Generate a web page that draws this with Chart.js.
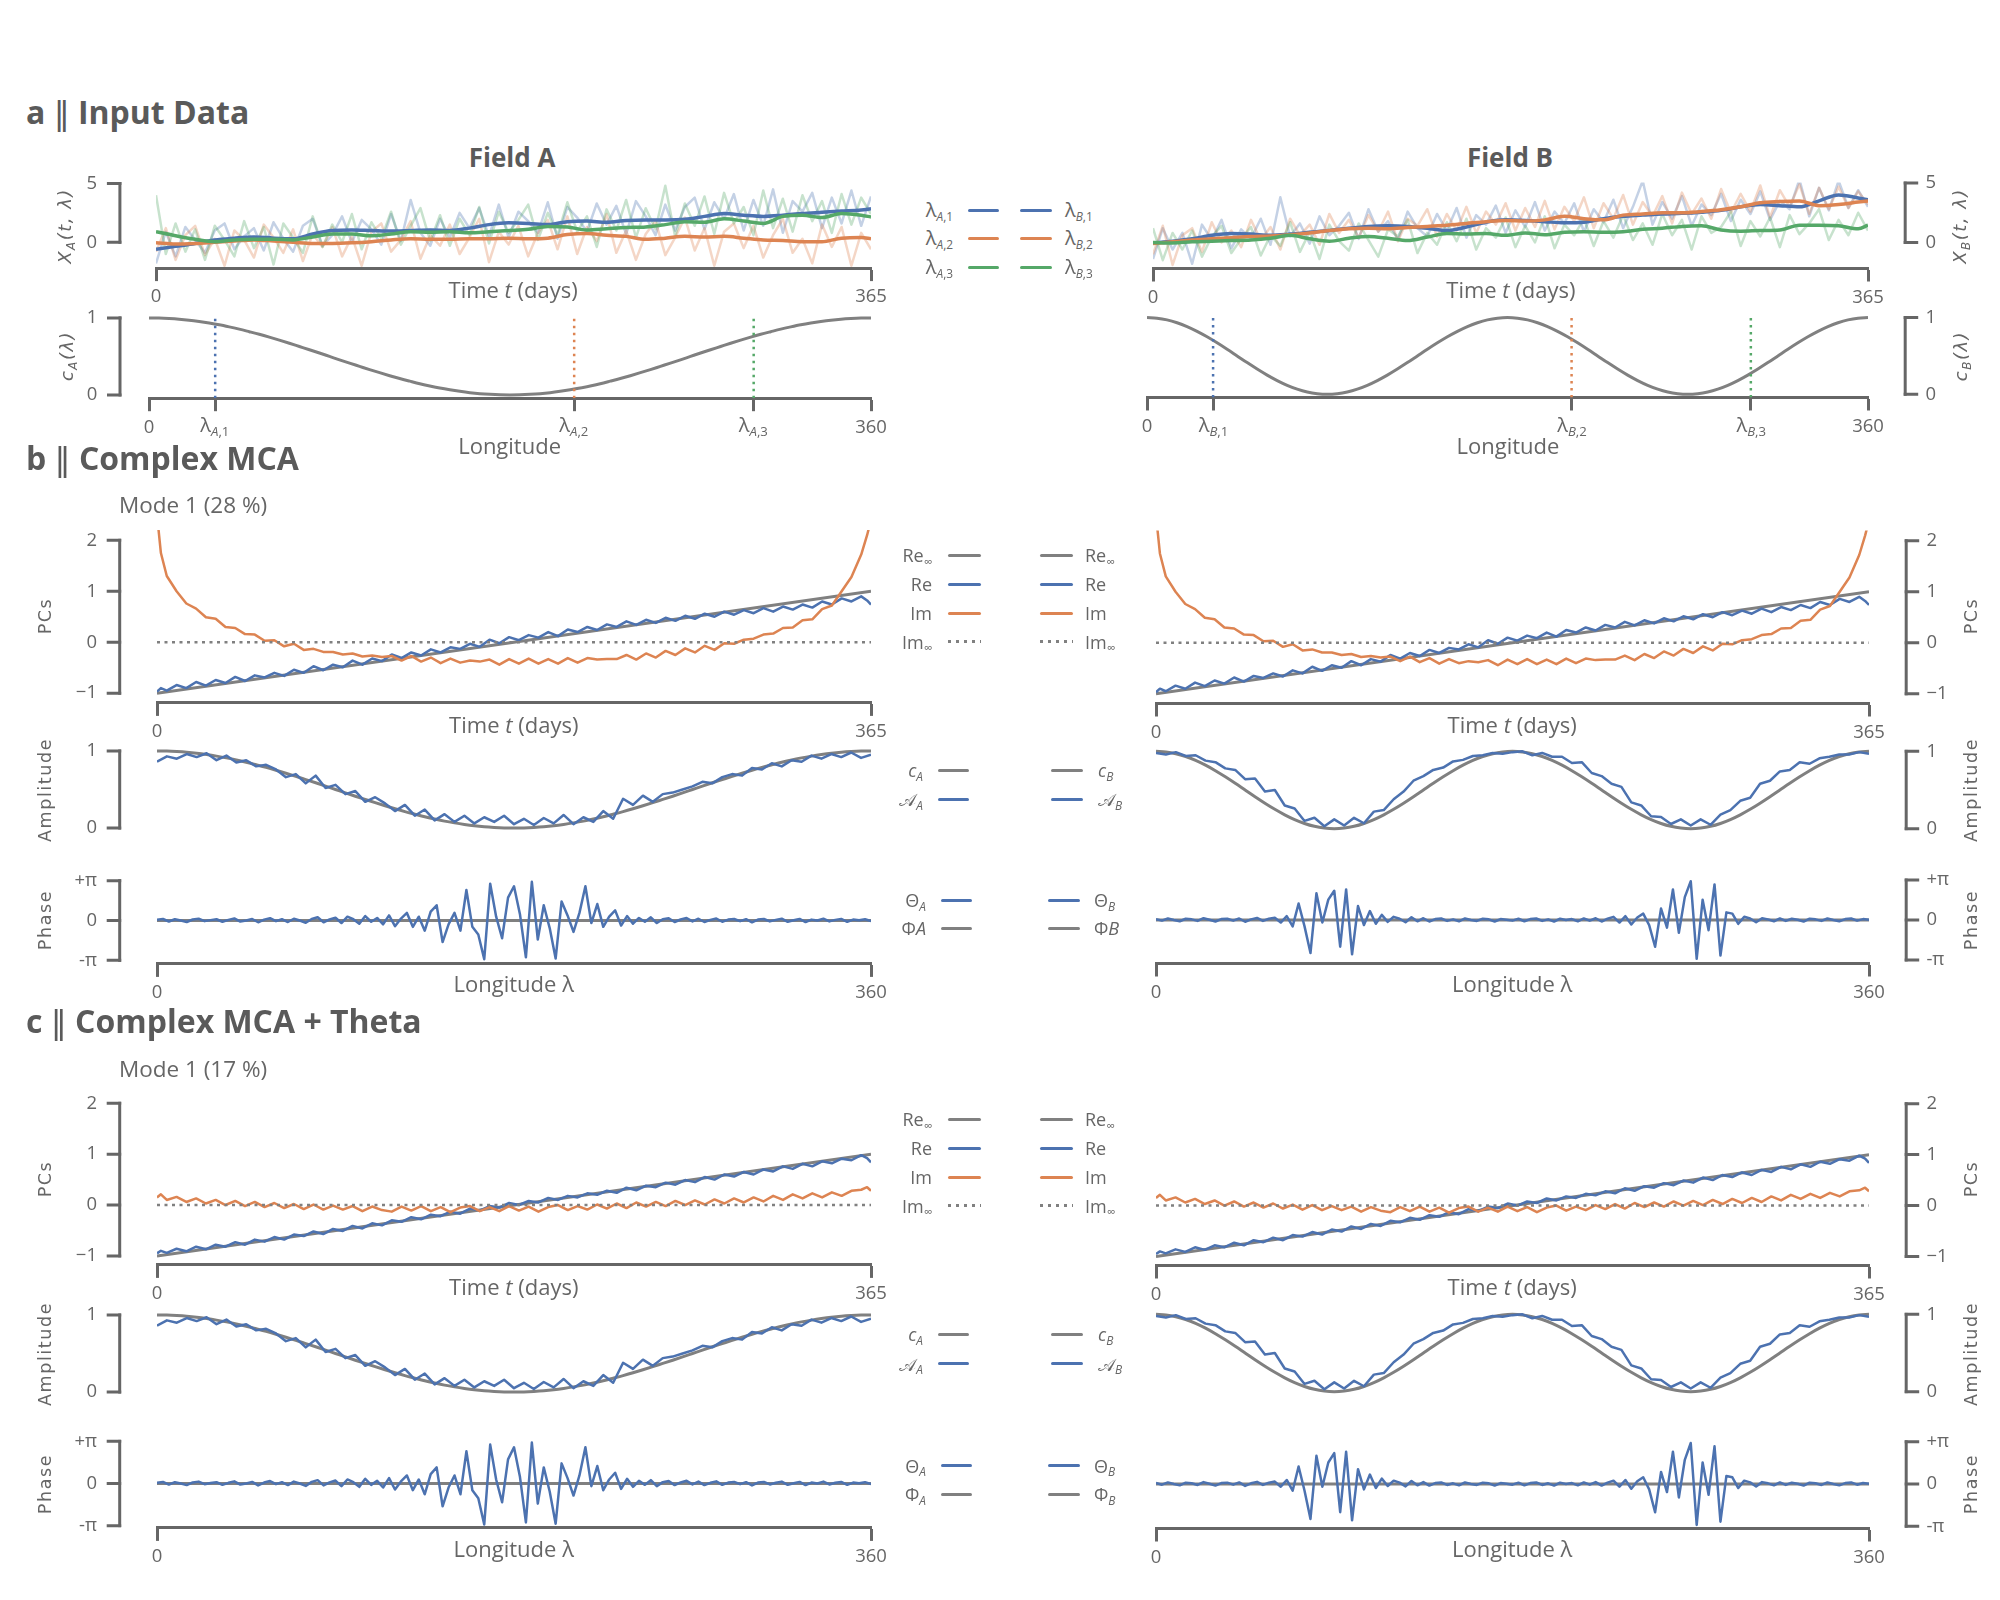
<!DOCTYPE html>
<html>
<head>
<meta charset="utf-8">
<title>Complex MCA</title>
<script src="https://cdn.jsdelivr.net/npm/chart.js@4.4.0/dist/chart.umd.min.js"></script>
<style>
  html, body { margin:0; padding:0; background:#ffffff; }
  #fig { position:relative; width:2000px; height:1600px; overflow:hidden; background:#fff;
         font-family:'Open Sans', sans-serif; color:#666; }
  #fig canvas { position:absolute; }
  .t { position:absolute; white-space:nowrap; line-height:1; }
  .t sub { font-size:0.66em; vertical-align:baseline; position:relative; top:0.32em; line-height:0; }
  .head { font-size:32px; font-weight:700; color:#5a5a5a; }
  .bar { font-weight:400; font-family:'DejaVu Sans', sans-serif; }
  .field { font-size:26px; font-weight:700; color:#5a5a5a; }
  .xl { font-size:22px; }
  .mode { font-size:22.5px; }
  .yl { font-family:'DejaVu Sans', sans-serif; font-size:17.5px; letter-spacing:1.6px; }
  .ym { font-family:'DejaVu Sans', sans-serif; font-style:italic; font-size:18px; letter-spacing:1.5px; }
  .leg { font-size:18px; }
  .lam { font-size:20px; }
  .cal { font-family:'DejaVu Sans','DejaVu Serif',serif; font-style:normal; }
  .sw { position:absolute; height:3px; }
</style>
</head>
<body>
<div id="fig"></div>
<script>
// ---------------- DATA ----------------
// Panel a: time axes (days)
const tSmooth = [0,10,20,30,40,50,60,70,80,90,100,110,120,130,140,150,160,170,180,190,200,210,220,230,240,250,260,270,280,290,300,310,320,330,340,350,360,365];
const tNoise = [0,5,10,15,20,25,30,35,40,45,50,55,60,65,70,75,80,85,90,95,100,105,110,115,120,125,130,135,140,145,150,155,160,165,170,175,180,185,190,195,200,205,210,215,220,225,230,235,240,245,250,255,260,265,270,275,280,285,290,295,300,305,310,315,320,325,330,335,340,345,350,355,360,365];

// Field A smoothed series X_A(t, lambda_i)
const smoothA1 = [-0.6,-0.35,-0.1,0.2,0.35,0.45,0.35,0.3,0.7,1.0,1.05,1.0,0.95,1.0,1.05,1.0,1.2,1.5,1.65,1.6,1.5,1.75,1.8,1.7,1.85,1.9,1.9,1.95,2.2,2.45,2.3,2.2,2.3,2.45,2.55,2.65,2.75,2.85];
const smoothA2 = [-0.05,-0.15,-0.1,0.0,0.1,0.2,0.1,0.0,-0.1,-0.1,-0.05,0.05,0.2,0.3,0.25,0.25,0.3,0.3,0.35,0.3,0.35,0.65,0.75,0.6,0.5,0.25,0.35,0.5,0.45,0.5,0.35,0.2,0.15,0.05,0.05,0.35,0.4,0.3];
const smoothA3 = [0.9,0.55,0.25,0.05,0.2,0.25,0.25,0.2,0.45,0.7,0.7,0.55,0.7,0.9,0.85,0.9,0.8,0.9,1.0,1.1,1.35,1.3,1.05,1.15,1.25,1.3,1.5,1.75,1.7,2.0,1.8,1.6,2.2,2.3,2.1,2.45,2.3,2.15];
// Field B smoothed series
const smoothB1 = [-0.05,0.1,0.3,0.6,0.75,0.7,0.6,0.7,0.85,1.0,1.2,1.35,1.4,1.35,1.2,1.0,1.3,1.7,1.9,1.85,1.75,1.65,1.7,2.0,2.2,2.3,2.4,2.45,2.55,2.7,3.0,3.2,3.1,3.0,3.5,4.0,3.75,3.6];
const smoothB2 = [-0.1,0.05,0.2,0.3,0.4,0.5,0.55,0.65,0.8,1.0,1.15,1.2,1.15,1.25,1.35,1.45,1.6,1.75,1.85,1.8,1.9,2.2,2.0,1.9,2.3,2.4,2.5,2.5,2.6,2.75,3.0,3.35,3.45,3.5,3.1,3.2,3.4,3.5];
const smoothB3 = [0.0,-0.05,0.05,0.1,0.15,0.2,0.35,0.6,0.3,0.1,0.35,0.5,0.35,0.15,0.45,0.75,0.7,0.75,0.6,0.8,0.65,0.85,0.9,0.85,0.9,1.1,1.2,1.35,1.4,1.05,0.95,1.0,1.05,1.45,1.45,1.4,1.15,1.45];

// Raw (noisy, faint) series
const noiseA1 = [-1.8,0.9,-1.2,1.3,0.2,-0.9,1.0,1.6,-0.6,0.5, 1.2,-0.7,1.7,0.3,-0.8,1.4,2.0,-0.3,0.6,2.2, 0.0,1.9,1.1,-0.2,2.4,0.1,3.6,0.8,-0.3,2.0, 0.4,2.5,1.2,2.9,0.5,3.2,0.4,2.6,1.8,0.8, 3.4,0.3,3.0,2.1,0.9,3.3,1.5,3.1,0.7,3.5, 2.2,0.6,3.2,1.0,3.0,3.8,1.1,3.4,2.0,4.1, 1.0,3.6,1.4,4.5,0.8,3.5,2.6,4.2,1.2,3.8, 1.6,4.4,1.4,3.9];
const noiseA2 = [-0.8,1.2,-1.5,0.6,1.4,-1.1,0.3,-2.0,1.0,0.2, -1.3,1.5,0.4,-0.9,1.1,-1.6,0.7,-0.4,1.3,-1.2, 0.5,-2.0,0.9,1.6,-0.8,0.2,1.8,-1.4,0.6,-0.3, 1.5,-1.0,0.4,2.0,-1.7,0.9,-0.2,1.4,-1.2,0.8, 1.9,-0.6,2.2,-1.0,1.3,0.1,2.4,-0.9,1.0,-1.5, 0.7,1.8,-1.1,0.4,2.1,-0.7,1.2,-2.0,0.9,1.6, -0.5,1.4,-1.3,0.6,2.0,-0.9,0.3,-1.8,1.5,-0.4, 1.3,-2.0,0.8,-0.6];
const noiseA3 = [4.0,-1.0,1.6,-0.8,1.1,-1.5,1.4,0.2,-1.2,1.8, -0.5,1.3,-1.9,1.6,0.4,-0.9,2.2,-0.4,1.5,0.0, 2.4,-0.6,1.7,0.3,2.6,-0.2,1.4,2.9,0.1,2.3, -0.3,2.0,0.6,3.0,-0.1,2.6,0.8,1.9,3.2,0.2, 2.5,0.6,3.4,0.9,2.2,-0.4,2.8,1.0,3.6,0.4, 2.9,1.1,4.8,0.5,3.3,1.4,3.9,0.7,4.2,1.6, 3.0,0.6,4.4,1.2,3.7,0.9,4.0,1.8,3.5,0.8, 4.1,1.5,3.8,2.4];
const noiseB1 = [-1.4,1.2,-0.6,0.8,-1.8,1.5,0.2,1.9,-0.5,1.1, 0.3,2.0,-0.2,3.8,0.5,1.6,-0.1,2.2,0.6,1.4, 2.5,0.3,2.8,0.9,1.8,0.2,2.6,1.2,0.5,2.4, 1.0,2.9,0.4,2.3,1.5,3.1,0.8,2.7,1.3,3.4, 1.0,2.6,1.6,3.3,0.9,2.8,1.7,3.6,1.2,3.0, 5.2,1.5,3.4,2.0,3.9,1.4,3.2,2.3,4.1,1.8, 3.6,2.4,4.3,1.9,3.5,2.8,5.3,2.2,4.6,2.7, 5.2,2.9,4.4,3.0];
const noiseB2 = [-1.0,1.4,-1.9,0.6,1.2,-0.8,1.7,0.0,1.0,-0.4, 1.9,0.2,1.3,-0.6,2.0,0.6,1.5,-0.2,2.4,0.8, 1.9,0.4,2.3,0.9,2.6,0.1,2.0,1.4,2.8,0.5, 2.4,1.0,3.0,0.8,2.6,1.5,3.3,1.0,2.9,1.3, 3.5,1.1,3.0,1.8,3.8,1.2,3.3,2.0,4.0,1.5, 3.4,2.2,3.9,1.6,4.2,2.4,3.7,2.0,4.5,2.5, 4.1,2.6,4.8,2.1,4.4,3.0,4.9,2.4,4.6,2.8, 4.7,2.9,4.3,3.2];
const noiseB3 = [1.2,-1.5,0.8,-0.6,1.0,-1.2,0.5,1.4,-0.9,0.3, 1.3,-1.1,0.6,-0.3,1.7,-0.8,0.9,-1.4,1.5,0.1, -0.7,1.6,0.2,-1.2,1.1,0.5,1.9,-0.9,0.8,-0.2, 1.7,0.1,2.0,-0.6,1.2,0.4,2.1,-0.4,1.4,0.0, 2.2,-0.5,1.5,0.6,2.0,-0.3,1.8,0.4,2.3,0.2, 1.6,-0.2,2.4,0.6,1.9,-0.6,2.2,0.8,1.3,2.6, -0.3,1.8,0.5,2.1,-0.4,2.3,0.7,1.6,2.8,0.2, 1.9,0.6,2.5,1.0];

// Longitudes of the three sample points
const lambdaA = [33, 212, 301.5];
const lambdaB = [33, 212, 301.5];

// Longitude grid and the amplitude profiles c_A, c_B
const lonAmp = [0,5,10,15,20,25,30,35,40,45,50,55,60,65,70,75,80,85,90,95,100,105,110,115,120,125,130,135,140,145,150,155,160,165,170,175,180,185,190,195,200,205,210,215,220,225,230,235,240,245,250,255,260,265,270,275,280,285,290,295,300,305,310,315,320,325,330,335,340,345,350,355,360];
const cA = [1,.998,.992,.983,.970,.953,.933,.910,.883,.854, .821,.787,.75,.711,.671,.629,.587,.544,.5,.456, .413,.371,.329,.289,.25,.213,.179,.146,.117,.090, .067,.047,.030,.017,.008,.002,0,.002,.008,.017, .030,.047,.067,.090,.117,.146,.179,.213,.25,.289, .329,.371,.413,.456,.5,.544,.587,.629,.671,.711, .75,.787,.821,.854,.883,.910,.933,.953,.970,.983, .992,.998,1];
const cB = [1,.992,.970,.933,.883,.821,.75,.671,.587,.5, .413,.329,.25,.179,.117,.067,.030,.008,0,.008, .030,.067,.117,.179,.25,.329,.413,.5,.587,.671, .75,.821,.883,.933,.970,.992,1,.992,.970,.933, .883,.821,.75,.671,.587,.5,.413,.329,.25,.179, .117,.067,.030,.008,0,.008,.030,.067,.117,.179, .25,.329,.413,.5,.587,.671,.75,.821,.883,.933, .970,.992,1];

// Estimated spatial amplitudes (mode 1)
const ampA = [0.86,0.93,0.90,0.96,0.92,0.97,0.88,0.94,0.85,0.88, 0.80,0.82,0.76,0.66,0.70,0.58,0.68,0.52,0.56,0.44, 0.48,0.34,0.40,0.32,0.22,0.30,0.16,0.24,0.10,0.18, 0.08,0.16,0.06,0.14,0.08,0.16,0.05,0.12,0.04,0.13, 0.06,0.17,0.05,0.14,0.08,0.22,0.12,0.38,0.30,0.42, 0.34,0.44,0.46,0.50,0.54,0.60,0.58,0.66,0.70,0.68, 0.78,0.76,0.84,0.80,0.88,0.86,0.94,0.90,0.96,0.92, 0.98,0.91,0.95];
const ampB = [0.98,0.96,0.99,0.94,0.95,0.88,0.86,0.78,0.76,0.64, 0.65,0.48,0.50,0.30,0.26,0.10,0.14,0.03,0.12,0.04, 0.14,0.07,0.22,0.24,0.38,0.48,0.62,0.68,0.76,0.79, 0.87,0.89,0.94,0.95,0.98,0.97,0.99,1.00,0.95,0.98, 0.93,0.93,0.85,0.86,0.72,0.68,0.58,0.54,0.34,0.30, 0.16,0.15,0.06,0.12,0.04,0.12,0.05,0.18,0.24,0.36, 0.40,0.58,0.62,0.74,0.76,0.86,0.84,0.91,0.93,0.96, 0.96,0.99,0.97];

// Spatial phases (mode 1)
const lonPhase = [0,3,6,9,12,15,18,21,24,27,30,33,36,39,42,45,48,51,54,57,60,63,66,69,72,75,78,81,84,87,90,93,96,99,102,105,108,111,114,117,120,123,126,129,132,135,138,141,144,147,150,153,156,159,162,165,168,171,174,177,180,183,186,189,192,195,198,201,204,207,210,213,216,219,222,225,228,231,234,237,240,243,246,249,252,255,258,261,264,267,270,273,276,279,282,285,288,291,294,297,300,303,306,309,312,315,318,321,324,327,330,333,336,339,342,345,348,351,354,357,360];
const thetaA = [0.06,0.12,-0.08,0.1,0.0,-0.12,0.08,0.14,-0.05,0.03, 0.1,-0.1,0.05,0.16,-0.08,0.0,0.12,-0.14,0.07,0.18, -0.05,0.1,-0.12,0.14,0.0,-0.18,0.12,0.25,-0.14,0.08, 0.22,-0.2,0.3,0.1,-0.25,0.35,-0.1,0.2,-0.3,0.4, -0.45,0.15,0.6,-0.5,0.3,-0.8,0.7,1.2,-1.7,-0.3, 0.6,-0.8,2.4,-0.5,-1.1,-3.05,2.9,0.3,-1.4,1.8, 2.7,0.5,-2.9,3.05,-1.5,1.2,-0.6,-3.0,1.5,0.4, -0.9,0.6,2.7,-0.2,1.3,-0.5,0.3,0.8,-0.4,0.35, -0.25,0.2,-0.1,0.25,-0.2,0.1,0.18,-0.12,0.08,0.2, -0.07,0.14,-0.12,0.05,0.16,-0.1,0.07,0.12,-0.05,0.1, -0.14,0.07,0.12,-0.07,0.05,0.14,-0.1,0.02,0.12,-0.12, 0.07,0.0,0.14,-0.07,0.05,0.12,-0.1,0.07,0.02,0.1, -0.05];
const thetaB = [0.07,-0.05,0.12,0.0,-0.1,0.1,0.05,-0.07,0.14,0.02, -0.12,0.07,0.1,-0.05,0.12,-0.14,0.05,0.16,-0.07,0.1, 0.18,-0.2,0.3,-0.5,1.3,-0.5,-2.6,2.1,-0.2,1.6, 2.3,-2.1,2.4,-2.7,1.1,-0.4,0.7,-0.3,0.4,-0.15, 0.25,0.1,-0.18,0.22,-0.1,0.14,-0.12,0.07,0.12,-0.07, 0.05,-0.1,0.12,0.0,-0.07,0.1,0.05,-0.12,0.07,0.02, -0.05,0.1,-0.1,0.07,0.12,-0.07,0.05,-0.12,0.1,0.0, 0.07,-0.1,0.12,-0.05,0.14,-0.12,0.1,0.25,-0.2,0.3, -0.35,0.2,0.5,-0.4,-2.1,0.9,-0.6,2.4,-1.0,1.8, 3.05,-3.05,1.6,-0.8,2.8,-2.8,0.6,0.5,-0.3,0.25, 0.12,-0.18,0.14,0.05,-0.1,0.12,-0.07,0.1,0.02,-0.12, 0.1,0.05,-0.07,0.12,0.0,-0.1,0.07,0.12,-0.05,0.07, 0.02];
const phaseRefLon = [0, 360];
const phaseRefVals = [0, 0];

// PCs (time series of mode 1)
const pcDays = [0,2,5,10,15,20,25,30,35,40,45,50,55,60,65,70,75,80,85,90,95,100,105,110,115,120,125,130,135,140,145,150,155,160,165,170,175,180,185,190,195,200,205,210,215,220,225,230,235,240,245,250,255,260,265,270,275,280,285,290,295,300,305,310,315,320,325,330,335,340,345,350,355,360,363,365];
const infDays = [0, 365];
const reInfVals = [-1, 1];
const imInfVals = [0, 0];
// b | Complex MCA
const reB = [-0.97,-0.90,-0.95,-0.84,-0.90,-0.78,-0.85,-0.74,-0.80,-0.68, -0.76,-0.65,-0.69,-0.60,-0.66,-0.54,-0.60,-0.47,-0.55,-0.44, -0.49,-0.36,-0.44,-0.32,-0.37,-0.24,-0.31,-0.20,-0.26,-0.14, -0.20,-0.10,-0.13,-0.03,-0.09,0.05,-0.02,0.10,0.04,0.14, 0.09,0.20,0.12,0.25,0.20,0.30,0.24,0.35,0.30,0.41, 0.34,0.44,0.38,0.48,0.42,0.52,0.46,0.56,0.50,0.60, 0.54,0.63,0.57,0.67,0.60,0.70,0.64,0.74,0.68,0.80, 0.74,0.86,0.80,0.90,0.82,0.74];
const imB = [2.5,1.75,1.3,1.0,0.76,0.66,0.49,0.46,0.3,0.28, 0.16,0.15,0.03,0.04,-0.08,-0.03,-0.15,-0.13,-0.19,-0.19, -0.24,-0.22,-0.28,-0.26,-0.29,-0.27,-0.36,-0.27,-0.38,-0.3, -0.41,-0.32,-0.4,-0.36,-0.38,-0.34,-0.44,-0.33,-0.42,-0.32, -0.42,-0.33,-0.42,-0.31,-0.4,-0.31,-0.34,-0.33,-0.33,-0.25, -0.34,-0.22,-0.3,-0.17,-0.25,-0.12,-0.2,-0.07,-0.15,-0.02, -0.03,0.05,0.07,0.15,0.17,0.28,0.29,0.43,0.45,0.65, 0.72,1.0,1.28,1.72,2.1,2.4];
// c | Complex MCA + Theta
const reC = [-0.95,-0.90,-0.94,-0.86,-0.91,-0.82,-0.87,-0.78,-0.82,-0.73, -0.78,-0.68,-0.72,-0.63,-0.68,-0.58,-0.61,-0.52,-0.57,-0.47, -0.51,-0.41,-0.46,-0.36,-0.40,-0.30,-0.33,-0.24,-0.28,-0.19, -0.22,-0.13,-0.17,-0.07,-0.11,-0.02,-0.05,0.04,0.00,0.08, 0.05,0.14,0.10,0.18,0.15,0.23,0.20,0.28,0.24,0.34, 0.29,0.38,0.35,0.44,0.40,0.49,0.45,0.55,0.50,0.60, 0.56,0.65,0.60,0.70,0.66,0.76,0.71,0.81,0.76,0.86, 0.82,0.91,0.88,0.98,0.92,0.84];
const imC = [0.15,0.21,0.10,0.16,0.06,0.13,0.03,0.10,0.00,0.08, -0.02,0.06,-0.04,0.04,-0.06,0.02,-0.08,0.01,-0.09,-0.01, -0.09,-0.02,-0.12,-0.03,-0.10,-0.13,-0.03,-0.11,-0.02,-0.12, -0.04,-0.14,-0.05,-0.02,-0.12,-0.04,-0.12,-0.02,-0.11,-0.03, -0.13,-0.04,0.00,-0.10,-0.02,-0.09,0.01,-0.07,0.03,-0.06, 0.05,-0.03,0.06,-0.02,0.08,0.00,0.09,0.01,0.11,0.03, 0.13,0.05,0.15,0.07,0.18,0.10,0.21,0.13,0.23,0.15, 0.25,0.18,0.28,0.30,0.35,0.28];

// Tick values / labels
const ticksA1 = [0, 5], labelsA1 = ['0', '5'];
const ticksA2 = [0, 1], labelsA2 = ['0', '1'];
const ticksPC = [-1, 0, 1, 2], labelsPC = ['\u22121', '0', '1', '2'];
const ticksAmp = [0, 1], labelsAmp = ['0', '1'];
const ticksPh = [-Math.PI, 0, Math.PI], labelsPh = ['-\u03c0', '0', '+\u03c0'];
const ticksDays = [0, 365], labelsDays = ['0', '365'];
const ticksLon = [0, 360], labelsLon = ['0', '360'];

// ---------------- STYLE ----------------
const BLUE='#4c72b0', ORANGE='#dd8452', GREEN='#55a868', GRAY='#808080', SPINE='#666666', TXT='#666666';
const FBLUE='rgba(76,114,176,0.33)', FORANGE='rgba(221,132,82,0.33)', FGREEN='rgba(85,168,104,0.33)';
Chart.defaults.font.family = "'Open Sans', sans-serif";
Chart.defaults.font.size = 18.5;
Chart.defaults.color = TXT;

const fig = document.getElementById('fig');

function pts(xs, ys){ return xs.map(function(x,i){ return {x:x, y:ys[i]}; }); }
function ds(xs, ys, color, width, extra){
  return Object.assign({data:pts(xs,ys), borderColor:color, backgroundColor:color, borderWidth:width,
    pointRadius:0, pointHoverRadius:0, fill:false, tension:0, borderJoinStyle:'round', borderCapStyle:'butt'}, extra||{});
}
const MONO = {cubicInterpolationMode:'monotone'};

const spines = {
  id:'spines',
  afterDraw: function(chart, args, o){
    if(!o || !o.ticks) return;
    const ctx=chart.ctx, ca=chart.chartArea, ys=chart.scales.y;
    const x = o.side==='left' ? ca.left - o.gap : ca.right + o.gap;
    const dir = o.side==='left' ? -1 : 1;
    const p0 = ys.getPixelForValue(o.ticks[0]), p1 = ys.getPixelForValue(o.ticks[o.ticks.length-1]);
    ctx.save();
    ctx.strokeStyle=SPINE; ctx.lineWidth=3; ctx.lineCap='butt';
    ctx.beginPath(); ctx.moveTo(x, p0+1.5); ctx.lineTo(x, p1-1.5); ctx.stroke();
    ctx.beginPath();
    o.ticks.forEach(function(v){ const p=ys.getPixelForValue(v); ctx.moveTo(x-dir*1.5, p); ctx.lineTo(x+dir*13, p); });
    ctx.stroke();
    ctx.restore();
  }
};

const LEFTCOL = {side:'left', spineX:119.7, labelEdge:97};
const RIGHTCOL = {side:'right', spineX:1905.8, labelEdge:1926};

function makeChart(g){
  const cv=document.createElement('canvas');
  fig.appendChild(cv);
  const AX=120, XH=55;
  const padL = g.side==='left'?0:40, padR = g.side==='left'?40:0;
  const W = Math.round((g.r-g.l) + AX + 40), H = Math.round((g.b-g.t) + (g.showX?XH:0) + 10);
  cv.width=W; cv.height=H; cv.style.width=W+'px'; cv.style.height=H+'px';
  const tickPad = g.side==='left' ? (g.l - g.labelEdge) : (g.labelEdge - g.r);
  const gap = g.side==='left' ? (g.l - g.spineX) : (g.spineX - g.r);
  const chart = new Chart(cv, {
    type:'line',
    data:{datasets:g.datasets},
    options:{
      responsive:false, maintainAspectRatio:false, animation:false, events:[],
      layout:{padding:{left:padL, right:padR, top:5, bottom:5}},
      plugins:{legend:{display:false}, tooltip:{enabled:false}, title:{display:false},
               spines:{side:g.side, gap:gap, ticks:g.yTicks}},
      scales:{
        x:{type:'linear', min:g.xmin, max:g.xmax, display:g.showX,
           afterBuildTicks:function(s){ s.ticks = g.xTicks.map(function(v){return {value:v};}); },
           afterFit:function(s){ s.height = XH; },
           ticks:{autoSkip:false, maxRotation:0, minRotation:0, padding:5, color:TXT,
                  callback:function(v,i){ return g.xLabels[i]; }},
           grid:{display:true, drawOnChartArea:false, drawTicks:true, tickLength:13, tickWidth:3, tickColor:SPINE},
           border:{display:true, color:SPINE, width:3}},
        y:{type:'linear', position:g.side, min:g.ymin, max:g.ymax,
           afterBuildTicks:function(s){ s.ticks = g.yTicks.map(function(v){return {value:v};}); },
           afterFit:function(s){ s.width = AX; },
           ticks:{autoSkip:false, padding:tickPad, color:TXT, callback:function(v,i){ return g.yLabels[i]; }},
           grid:{display:false, drawTicks:false, tickLength:0}, border:{display:false}}
      }
    },
    plugins:[spines]
  });
  for(let k=0;k<3;k++){
    const ca=chart.chartArea;
    const dw=(g.r-g.l)-(ca.right-ca.left), dh=(g.b-g.t)-(ca.bottom-ca.top);
    if(Math.abs(dw)<0.5 && Math.abs(dh)<0.5) break;
    chart.resize(Math.round(chart.width+dw), Math.round(chart.height+dh));
  }
  const ca=chart.chartArea;
  const ox = g.l-ca.left, oy = g.t-ca.top;
  cv.style.left=ox+'px'; cv.style.top=oy+'px';
  chart.$ox = ox; chart.$oy = oy;
  return chart;
}

function T(html, x, y, o){
  o = o||{};
  const d=document.createElement('div');
  d.className='t'+(o.cls?' '+o.cls:'');
  d.innerHTML=html;
  d.style.left=x+'px'; d.style.top=y+'px';
  const tx = o.align==='left'?'0%':(o.align==='right'?'-100%':'-50%');
  d.style.transform='translate('+tx+',-50%)'+(o.rot?' rotate('+o.rot+'deg)':'');
  fig.appendChild(d);
  return d;
}
function SW(x1,x2,y,color,dotted){
  const d=document.createElement('div');
  d.className='sw';
  d.style.left=x1+'px'; d.style.width=(x2-x1)+'px'; d.style.top=(y-1.5)+'px';
  d.style.background = dotted ? 'repeating-linear-gradient(90deg,'+color+' 0px,'+color+' 3px,transparent 3px,transparent 8px)' : color;
  if(!dotted) d.style.borderRadius='1.5px';
  fig.appendChild(d);
}
function legend(rows, items, L, R){
  items.forEach(function(it,i){
    const y=rows[i];
    T(it.l, L.text, y, {align:'right', cls:'leg'});
    SW(L.s1, L.s2, y, it.c, it.d);
    SW(R.s1, R.s2, y, it.c, it.d);
    T(it.r, R.text, y, {align:'left', cls:'leg'});
  });
}
function geo(col, o){ return Object.assign({}, col, o); }

// ---------------- PANEL a ----------------
T('a <span class="bar">\u2016</span> Input Data', 26, 112, {align:'left', cls:'head'});
T('Field A', 512, 157, {cls:'field'});
T('Field B', 1510, 157, {cls:'field'});

const A1 = {t:182.7, b:268.3, ymin:-2.2, ymax:5.05, yTicks:ticksA1, yLabels:labelsA1, xmin:0, xmax:365, xTicks:ticksDays, xLabels:labelsDays, showX:true};
const chA1 = makeChart(geo(LEFTCOL, Object.assign({}, A1, {l:155.8, r:870.5, datasets:[
  ds(tSmooth, smoothA3, GREEN, 3.5, MONO), ds(tSmooth, smoothA2, ORANGE, 3.5, MONO), ds(tSmooth, smoothA1, BLUE, 3.5, MONO),
  ds(tNoise, noiseA3, FGREEN, 2.5), ds(tNoise, noiseA2, FORANGE, 2.5), ds(tNoise, noiseA1, FBLUE, 2.5)]})));
const chB1 = makeChart(geo(RIGHTCOL, Object.assign({}, A1, {l:1153.2, r:1868.6, datasets:[
  ds(tSmooth, smoothB3, GREEN, 3.5, MONO), ds(tSmooth, smoothB2, ORANGE, 3.5, MONO), ds(tSmooth, smoothB1, BLUE, 3.5, MONO),
  ds(tNoise, noiseB3, FGREEN, 2.5), ds(tNoise, noiseB2, FORANGE, 2.5), ds(tNoise, noiseB1, FBLUE, 2.5)]})));

const A2 = {t:314.5, b:397.7, ymin:-0.042, ymax:1.04, yTicks:ticksA2, yLabels:labelsA2, xmin:0, xmax:360, showX:true};
function vlines(lams){
  const cols=[BLUE, ORANGE, GREEN];
  return lams.map(function(v,i){ return ds([v,v],[A2.ymin,A2.ymax], cols[i], 2.5, {borderDash:[2.5,4.5]}); });
}
const chA2 = makeChart(geo(LEFTCOL, Object.assign({}, A2, {l:148.7, r:870.5,
  xTicks:[0].concat(lambdaA,[360]), xLabels:['0','','','','360'],
  datasets: vlines(lambdaA).concat([ds(lonAmp, cA, GRAY, 3, MONO)])})));
const chB2 = makeChart(geo(RIGHTCOL, Object.assign({}, A2, {l:1147.4, r:1868.6,
  xTicks:[0].concat(lambdaB,[360]), xLabels:['0','','','','360'],
  datasets: vlines(lambdaB).concat([ds(lonAmp, cB, GRAY, 3, MONO)])})));

lambdaA.forEach(function(v,i){
  T('\u03bb<sub><i>A</i>,'+(i+1)+'</sub>', chA2.$ox + chA2.scales.x.getPixelForValue(v), 425, {cls:'lam'});
});
lambdaB.forEach(function(v,i){
  T('\u03bb<sub><i>B</i>,'+(i+1)+'</sub>', chB2.$ox + chB2.scales.x.getPixelForValue(v), 425, {cls:'lam'});
});

T('Time <i>t</i> (days)', (155.8+870.5)/2, 288.5, {cls:'xl'});
T('Time <i>t</i> (days)', (1153.2+1868.6)/2, 288.5, {cls:'xl'});
T('Longitude', (148.7+870.5)/2, 445, {cls:'xl'});
T('Longitude', (1147.4+1868.6)/2, 445, {cls:'xl'});
T('X<sub>A</sub>(t, \u03bb)', 65, (182.7+268.3)/2, {cls:'ym', rot:-90});
T('X<sub>B</sub>(t, \u03bb)', 1960, (182.7+268.3)/2, {cls:'ym', rot:-90});
T('c<sub>A</sub>(\u03bb)', 67, (314.5+397.7)/2, {cls:'ym', rot:-90});
T('c<sub>B</sub>(\u03bb)', 1961, (314.5+397.7)/2, {cls:'ym', rot:-90});

legend([210, 238.3, 267.3], [
  {l:'<span class="lam">\u03bb</span><sub><i>A</i>,1</sub>', r:'<span class="lam">\u03bb</span><sub><i>B</i>,1</sub>', c:BLUE},
  {l:'<span class="lam">\u03bb</span><sub><i>A</i>,2</sub>', r:'<span class="lam">\u03bb</span><sub><i>B</i>,2</sub>', c:ORANGE},
  {l:'<span class="lam">\u03bb</span><sub><i>A</i>,3</sub>', r:'<span class="lam">\u03bb</span><sub><i>B</i>,3</sub>', c:GREEN}
], {text:953, s1:968, s2:999}, {text:1065, s1:1020, s2:1052});

// ---------------- PANELS b and c ----------------
function mcaPanel(P){
  const colL = {l:157, r:870.5}, colR = {l:1155.8, r:1868.6};
  const PC = {t:P.pc.t, b:P.pc.b, ymin:P.pc.ymin, ymax:2.2, yTicks:ticksPC, yLabels:labelsPC, xmin:0, xmax:365, xTicks:ticksDays, xLabels:labelsDays, showX:true};
  const pcSets = function(){ return [ds(infDays, imInfVals, GRAY, 2.5, {borderDash:[3,4.5]}), ds(pcDays, P.im, ORANGE, 2.5), ds(pcDays, P.re, BLUE, 2.5), ds(infDays, reInfVals, GRAY, 3)]; };
  makeChart(geo(LEFTCOL, Object.assign({}, PC, colL, {datasets:pcSets()})));
  makeChart(geo(RIGHTCOL, Object.assign({}, PC, colR, {datasets:pcSets()})));

  const AM = {t:P.am.t, b:P.am.b, ymin:-0.05, ymax:1.05, yTicks:ticksAmp, yLabels:labelsAmp, xmin:0, xmax:360, xTicks:ticksLon, xLabels:labelsLon, showX:false};
  makeChart(geo(LEFTCOL, Object.assign({}, AM, colL, {datasets:[ds(lonAmp, ampA, BLUE, 2.5), ds(lonAmp, cA, GRAY, 3, MONO)]})));
  makeChart(geo(RIGHTCOL, Object.assign({}, AM, colR, {datasets:[ds(lonAmp, ampB, BLUE, 2.5), ds(lonAmp, cB, GRAY, 3, MONO)]})));

  const PH = {t:P.ph.t, b:P.ph.b, ymin:-P.ph.lim, ymax:P.ph.lim, yTicks:ticksPh, yLabels:labelsPh, xmin:0, xmax:360, xTicks:ticksLon, xLabels:labelsLon, showX:true};
  makeChart(geo(LEFTCOL, Object.assign({}, PH, colL, {datasets:[ds(lonPhase, thetaA, BLUE, 2.5), ds(phaseRefLon, phaseRefVals, GRAY, 3)]})));
  makeChart(geo(RIGHTCOL, Object.assign({}, PH, colR, {datasets:[ds(lonPhase, thetaB, BLUE, 2.5), ds(phaseRefLon, phaseRefVals, GRAY, 3)]})));

  T(P.head, 26, P.headY, {align:'left', cls:'head'});
  T(P.mode, 119, P.modeY, {align:'left', cls:'mode'});
  const cxL=(colL.l+colL.r)/2, cxR=(colR.l+colR.r)/2;
  T('Time <i>t</i> (days)', cxL, P.pc.b+21, {cls:'xl'});
  T('Time <i>t</i> (days)', cxR, P.pc.b+21, {cls:'xl'});
  T('Longitude \u03bb', cxL, P.ph.b+19.5, {cls:'xl'});
  T('Longitude \u03bb', cxR, P.ph.b+19.5, {cls:'xl'});
  [['PCs',P.pc],['Amplitude',P.am],['Phase',P.ph]].forEach(function(a){
    T(a[0], 46, (a[1].t+a[1].b)/2, {cls:'yl', rot:-90});
    T(a[0], 1972, (a[1].t+a[1].b)/2, {cls:'yl', rot:-90});
  });
  legend(P.pcRows, [
    {l:'Re<sub>\u221e</sub>', r:'Re<sub>\u221e</sub>', c:GRAY},
    {l:'Re', r:'Re', c:BLUE},
    {l:'Im', r:'Im', c:ORANGE},
    {l:'Im<sub>\u221e</sub>', r:'Im<sub>\u221e</sub>', c:GRAY, d:true}
  ], {text:932, s1:948, s2:981}, {text:1085, s1:1040, s2:1073});
  legend(P.amRows, [
    {l:'<i>c</i><sub><i>A</i></sub>', r:'<i>c</i><sub><i>B</i></sub>', c:GRAY},
    {l:'<span class="cal">\ud835\udc9c</span><sub><i>A</i></sub>', r:'<span class="cal">\ud835\udc9c</span><sub><i>B</i></sub>', c:BLUE}
  ], {text:923, s1:938, s2:969}, {text:1098, s1:1051, s2:1083});
  legend(P.phRows, [
    {l:'\u0398<sub><i>A</i></sub>', r:'\u0398<sub><i>B</i></sub>', c:BLUE},
    {l:P.phiA, r:P.phiB, c:GRAY}
  ], {text:926, s1:941, s2:972}, {text:1094, s1:1048, s2:1080});
}

mcaPanel({
  re:reB, im:imB,
  pc:{t:530.1, b:702.7, ymin:-1.19}, am:{t:747.4, b:832.3}, ph:{t:876.9, b:963.9, lim:3.42},
  head:'b <span class="bar">\u2016</span> Complex MCA', headY:457.5,
  mode:'Mode 1 (28 %)', modeY:505,
  pcRows:[555, 584.3, 613.3, 641.7], amRows:[770, 799], phRows:[900, 928.3],
  phiA:'\u03a6<i>A</i>', phiB:'\u03a6<i>B</i>'
});
mcaPanel({
  re:reC, im:imC,
  pc:{t:1093.3, b:1265.0, ymin:-1.177}, am:{t:1310.9, b:1396.1}, ph:{t:1439.5, b:1528.3, lim:3.31},
  head:'c <span class="bar">\u2016</span> Complex MCA + Theta', headY:1021,
  mode:'Mode 1 (17 %)', modeY:1069,
  pcRows:[1119, 1148, 1177, 1205.5], amRows:[1334, 1363.5], phRows:[1465.5, 1494],
  phiA:'\u03a6<sub><i>A</i></sub>', phiB:'\u03a6<sub><i>B</i></sub>'
});
</script>
</body>
</html>
